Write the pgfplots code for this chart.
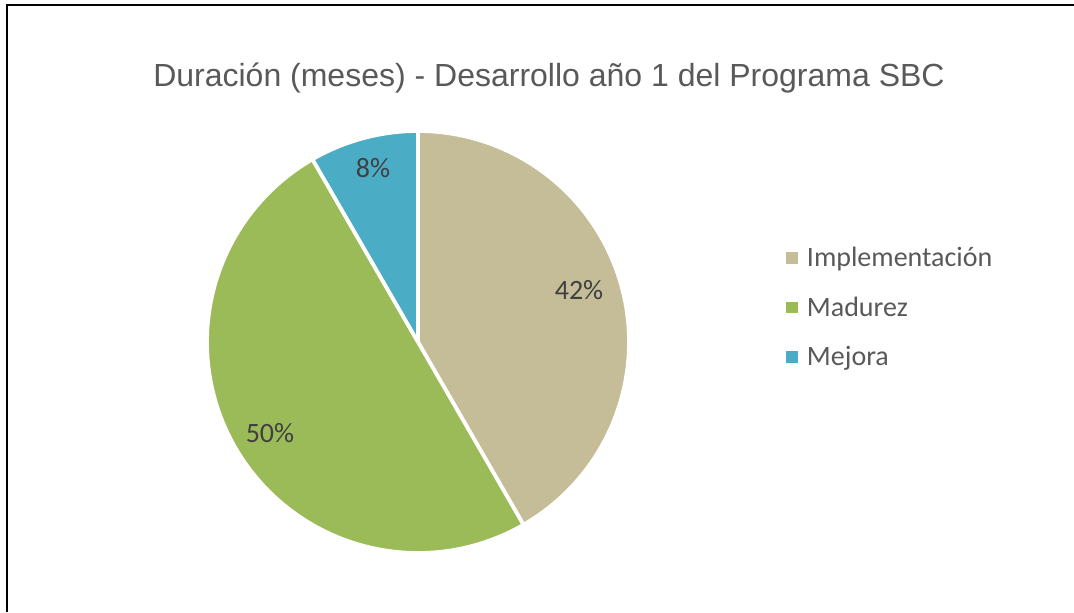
\documentclass[border=0pt]{standalone}
\usepackage{fontspec}
\setmainfont{Carlito}
\newfontfamily\titlefont{Liberation Sans}
\usepackage{pgfplots}
\pgfplotsset{compat=1.18}
\definecolor{implem}{HTML}{C4BD97}
\definecolor{madurez}{HTML}{9BBB59}
\definecolor{mejora}{HTML}{4BACC6}
\definecolor{txtgrey}{HTML}{595959}
\definecolor{lblgrey}{HTML}{404040}

% months per phase (12 in total)
\def\vImp{5}
\def\vMad{6}
\def\vMej{1}
\pgfmathsetmacro\tot{\vImp+\vMad+\vMej}
\pgfmathsetmacro\aA{90}
\pgfmathsetmacro\aB{\aA-360*\vImp/\tot}
\pgfmathsetmacro\aC{\aB-360*\vMad/\tot}
\pgfmathsetmacro\aD{\aC-360*\vMej/\tot}

\begin{document}
\begin{tikzpicture}
\useasboundingbox (0,0) rectangle (805.5pt,459pt);
\begin{axis}[at={(0,0)},anchor=south west,
 width=805.5pt,height=459pt,scale only axis,
 xmin=0,xmax=1074,ymin=0,ymax=612,y dir=reverse,
 hide axis,clip=false,no markers,
 legend image code/.code={\fill[#1,draw=none] (0pt,-4.3pt) rectangle (8.6pt,4.3pt);},
 legend cell align=left,
 legend style={at={(0.728,0.605)},anchor=north west,draw=none,fill=none,
   font=\fontsize{21}{25}\selectfont,text=txtgrey,row sep=17pt,
   /tikz/every odd column/.append style={column sep=5pt}}]
\addplot[fill=implem,draw=white,line width=2.8pt,line join=round,domain=\aB:\aA,samples=90,variable=\t]
 ({418+211*cos(\t)},{342-211*sin(\t)}) -- (axis cs:418,342) -- cycle;
\addlegendentry{Implementación}
\addplot[fill=madurez,draw=white,line width=2.8pt,line join=round,domain=\aC:\aB,samples=90,variable=\t]
 ({418+211*cos(\t)},{342-211*sin(\t)}) -- (axis cs:418,342) -- cycle;
\addlegendentry{Madurez}
\addplot[fill=mejora,draw=white,line width=2.8pt,line join=round,domain=\aD:\aC,samples=30,variable=\t]
 ({418+211*cos(\t)},{342-211*sin(\t)}) -- (axis cs:418,342) -- cycle;
\addlegendentry{Mejora}

\node[font=\fontsize{21}{25}\selectfont,text=lblgrey] at (axis cs:579,290) {42\%};
\node[font=\fontsize{21}{25}\selectfont,text=lblgrey] at (axis cs:270,433) {50\%};
\node[font=\fontsize{21}{25}\selectfont,text=lblgrey] at (axis cs:373,168) {8\%};
\node[font=\titlefont\fontsize{24}{28}\selectfont,text=txtgrey] at (axis cs:549,78)
 {Duración (meses) - Desarrollo año 1 del Programa SBC};
\draw[line width=1.4pt] (axis cs:7,612) -- (axis cs:7,5) -- (axis cs:1074,5);
\end{axis}
\end{tikzpicture}
\end{document}
